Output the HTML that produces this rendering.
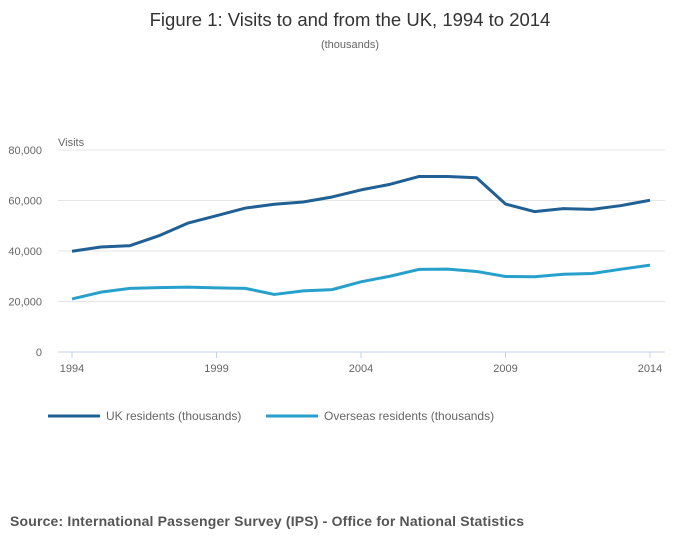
<!DOCTYPE html>
<html><head><meta charset="utf-8"><style>
body{margin:0;background:#fff;font-family:"Liberation Sans",sans-serif;}
svg text{font-family:"Liberation Sans",sans-serif;}
</style></head><body>
<svg id="c" width="700" height="549">
<text x="350" y="26" text-anchor="middle" font-size="18.5" fill="#333">Figure 1: Visits to and from the UK, 1994 to 2014</text>
<text x="350" y="48" text-anchor="middle" font-size="11" fill="#666">(thousands)</text>
<text x="58" y="146" font-size="11" fill="#666">Visits</text>
<g id="grid"></g><g id="lines"></g>
<g>
<line x1="48" y1="416" x2="100" y2="416" stroke="#206095" stroke-width="3"/>
<text x="106" y="420" font-size="12" fill="#666">UK residents (thousands)</text>
<line x1="266" y1="416" x2="318" y2="416" stroke="#27a0cc" stroke-width="3"/>
<text x="324" y="420" font-size="12" fill="#666">Overseas residents (thousands)</text>
</g>
<text x="10" y="526" font-size="14" font-weight="bold" fill="#555" textLength="514">Source: International Passenger Survey (IPS) - Office for National Statistics</text>
</svg>
<script>
const years=[1994,1995,1996,1997,1998,1999,2000,2001,2002,2003,2004,2005,2006,2007,2008,2009,2010,2011,2012,2013,2014];
const ukResidents=[39.9,41.6,42.1,46,51,54,57,58.5,59.4,61.4,64.2,66.4,69.5,69.5,69.0,58.6,55.6,56.8,56.5,58,60.1];
const overseasResidents=[21,23.7,25.2,25.5,25.7,25.4,25.2,22.8,24.2,24.7,27.8,30,32.7,32.8,31.9,29.9,29.8,30.8,31.1,32.8,34.4];
const yTicks=[0,20000,40000,60000,80000];
const xTicks=[1994,1999,2004,2009,2014];
const NS='http://www.w3.org/2000/svg';
const x=v=>72+(v-1994)*(650-72)/20;
const y=v=>352-v*(352-150)/80000;
function mk(t,a,p){const e=document.createElementNS(NS,t);for(const k in a)e.setAttribute(k,a[k]);p.appendChild(e);return e;}
const g=document.getElementById('grid');
yTicks.forEach(v=>{
 const l=mk('line',{x1:58,x2:665,y1:y(v),y2:y(v),stroke:v?'#e4e4e4':'#c6d3e6','stroke-width':1},g);
 
 
 const t=mk('text',{x:42,y:y(v)+4,'text-anchor':'end','font-size':11,fill:'#666'},g);
 t.textContent=v.toLocaleString('en-US');
 
 
});
xTicks.forEach(v=>{
 const l=mk('line',{x1:x(v),x2:x(v),y1:352,y2:358,stroke:'#c6d3e6'},g);
 
 
 const t=mk('text',{x:x(v),y:372,'text-anchor':'middle','font-size':11,fill:'#666'},g);
 t.textContent=v;
 
 
});
const L=document.getElementById('lines');
[[ukResidents,'#206095','line-uk-residents'],[overseasResidents,'#27a0cc','line-overseas-residents']].forEach(([d,c,n])=>{
 const p=mk('path',{d:d.map((v,i)=>(i?'L':'M')+x(years[i])+','+y(v*1000)).join(''),fill:'none',stroke:c,'stroke-width':3,'stroke-linejoin':'round'},L);
 
 
});
</script>
</body></html>
